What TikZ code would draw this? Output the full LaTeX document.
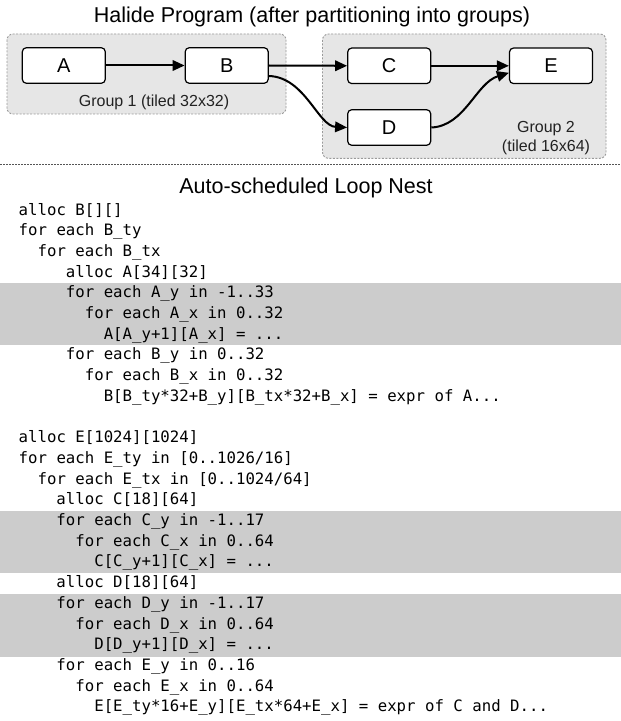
\documentclass[tikz,border=0pt]{standalone}
\usepackage{fontspec}
\setmainfont{Liberation Sans}
\newfontfamily\codefont{DejaVu Sans Mono}
\usetikzlibrary{arrows.meta}
\definecolor{groupfill}{HTML}{E6E6E6}
\definecolor{groupline}{HTML}{9A9A9A}
\definecolor{bandgray}{HTML}{CCCCCC}
\definecolor{sepline}{HTML}{555555}
\definecolor{labeltext}{HTML}{222222}
\begin{document}
\begin{tikzpicture}[x=1bp,y=-1bp,
  groupbox/.style={draw=groupline,fill=groupfill,line width=0.9bp,dash pattern=on 2bp off 1.5bp,rounded corners=6bp},
  fbox/.style={draw=black,fill=white,line width=1.2bp,rounded corners=4bp,minimum width=83bp,minimum height=35.5bp,inner sep=0pt,font=\fontsize{20bp}{24bp}\selectfont},
  arr/.style={draw=black,line width=2bp,-{Triangle[length=12bp,width=10.5bp]}},
  title/.style={font=\fontsize{21.5bp}{25bp}\selectfont,anchor=base,inner sep=0pt},
  grouplabel/.style={font=\fontsize{16bp}{19bp}\selectfont,text=labeltext,inner sep=0pt,align=center},
  codeline/.style={font=\codefont\fontsize{15.7bp}{20bp}\selectfont,anchor=base west,inner sep=0pt},
  sep/.style={draw=sepline,line width=1.5bp,dash pattern=on 1.5bp off 1.5bp}
]
\useasboundingbox (0,0) rectangle (621,721);
\fill[white] (0,0) rectangle (621,721);

% titles
\node[title] (t1) at (312,22.7) {Halide Program (after partitioning into groups)};
\node[title] (t2) at (306,193.3) {Auto-scheduled Loop Nest};

% group boxes
\draw[groupbox] (7,34) rectangle (286,114);
\draw[groupbox] (322.5,34) rectangle (606,158.3);
\node[grouplabel,anchor=base] (g1) at (154,107) {Group 1 (tiled 32x32)};
\node[grouplabel,anchor=base] (g2a) at (546,133) {Group 2};
\node[grouplabel,anchor=base] (g2b) at (546,151.5) {(tiled 16x64)};

% function boxes
\node[fbox] (A) at (63.8,65.5) {A};
\node[fbox] (B) at (226.7,65.5) {B};
\node[fbox] (C) at (389.2,65.8) {C};
\node[fbox] (E) at (551,65.8) {E};
\node[fbox] (D) at (389.2,127.5) {D};

% connectors
\draw[arr] (A) -- (B);
\draw[arr] (B.east) -- (C.west);
\draw[arr] (C.east) -- (E.west);
\coordinate (bd) at ([yshift=-10.5bp]B.east);
\coordinate (de) at ([yshift=-7bp]E.west);
\draw[arr] (bd) .. controls (305,77) and (318,126) .. (D.west);
\draw[arr] (D.east) .. controls (465,126) and (476,83) .. (de);

% separator
\coordinate (sl) at (0,164.5);
\coordinate (sr) at (621,164.5);
\draw[sep] (sl) -- (sr);

% highlight bands
\fill[bandgray] (0,282.6) rectangle (621,344.6);
\fill[bandgray] (0,510.9) rectangle (621,572.9);
\fill[bandgray] (0,593.9) rectangle (621,656.5);

% code
\newcommand{\cl}[4]{\node[codeline] (#1) at ({18.5+#3*9.45},{215+#2*20.7}) {#4};}
\cl{l0}{0}{0}{alloc B[][]}
\cl{l1}{1}{0}{for each B\_ty}
\cl{l2}{2}{2}{for each B\_tx}
\cl{l3}{3}{5}{alloc A[34][32]}
\cl{l4}{4}{5}{for each A\_y in -1..33}
\cl{l5}{5}{7}{for each A\_x in 0..32}
\cl{l6}{6}{9}{A[A\_y+1][A\_x] = ...}
\cl{l7}{7}{5}{for each B\_y in 0..32}
\cl{l8}{8}{7}{for each B\_x in 0..32}
\cl{l9}{9}{9}{B[B\_ty*32+B\_y][B\_tx*32+B\_x] = expr of A...}
\cl{l11}{11}{0}{alloc E[1024][1024]}
\cl{l12}{12}{0}{for each E\_ty in [0..1026/16]}
\cl{l13}{13}{2}{for each E\_tx in [0..1024/64]}
\cl{l14}{14}{4}{alloc C[18][64]}
\cl{l15}{15}{4}{for each C\_y in -1..17}
\cl{l16}{16}{6}{for each C\_x in 0..64}
\cl{l17}{17}{8}{C[C\_y+1][C\_x] = ...}
\cl{l18}{18}{4}{alloc D[18][64]}
\cl{l19}{19}{4}{for each D\_y in -1..17}
\cl{l20}{20}{6}{for each D\_x in 0..64}
\cl{l21}{21}{8}{D[D\_y+1][D\_x] = ...}
\cl{l22}{22}{4}{for each E\_y in 0..16}
\cl{l23}{23}{6}{for each E\_x in 0..64}
\cl{l24}{24}{8}{E[E\_ty*16+E\_y][E\_tx*64+E\_x] = expr of C and D...}
\end{tikzpicture}
\end{document}
